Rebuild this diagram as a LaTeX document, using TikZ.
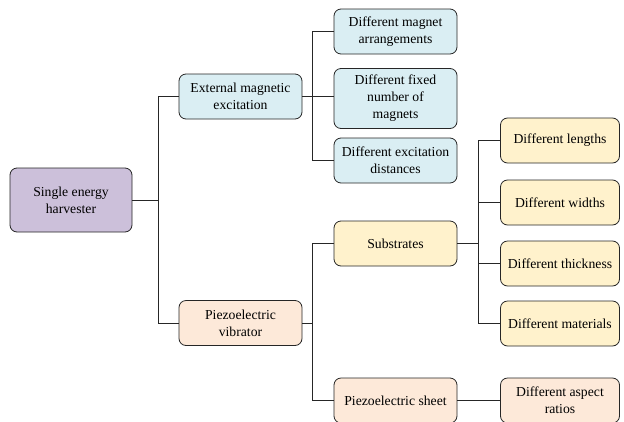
\documentclass[tikz,border=0pt]{standalone}
\usepackage{fontspec}
\setmainfont{Liberation Serif}
\definecolor{rootfill}{HTML}{CCC0DA}
\definecolor{magfill}{HTML}{DAEEF3}
\definecolor{subfill}{HTML}{FFF2CC}
\definecolor{piezofill}{HTML}{FDE9D9}
\tikzset{
  box/.style={draw=black!85, line width=0.8pt, rounded corners=7pt,
    align=center, inner sep=2pt, minimum height=45pt,
    font=\fontsize{13.7}{17}\selectfont},
  rootbox/.style={box, fill=rootfill, minimum width=122pt, minimum height=64pt},
  magbox/.style={box, fill=magfill, minimum width=123pt},
  subbox/.style={box, fill=subfill, minimum width=123pt},
  leafbox/.style={box, fill=subfill, minimum width=119pt},
  piezobox/.style={box, fill=piezofill, minimum width=123pt},
  link/.style={draw=black!85, line width=0.8pt}
}
\begin{document}
\begin{tikzpicture}[x=1pt,y=-1pt]
\useasboundingbox (0,0) rectangle (624,421);
% root
\node[rootbox] (root) at (71,200) {Single energy\\harvester};
% second level
\node[magbox] (ext) at (240.5,96.5) {External magnetic\\excitation};
\node[piezobox] (vib) at (240.5,323) {Piezoelectric\\vibrator};
% magnetic branch
\node[magbox] (arr) at (395.5,31.5) {Different magnet\\arrangements};
\node[magbox, minimum height=60pt] (num) at (395.5,98.5) {Different fixed\\number of\\magnets};
\node[magbox] (dist) at (395.5,160.5) {Different excitation\\distances};
% vibrator branch
\node[subbox] (sub) at (395.5,243.5) {Substrates};
\node[piezobox] (sheet) at (395.5,400.5) {Piezoelectric sheet};
% substrate leaves
\node[leafbox] (len) at (560,140.5) {Different lengths};
\node[leafbox] (wid) at (560,202.5) {Different widths};
\node[leafbox] (thk) at (560,263.5) {Different thickness};
\node[leafbox] (mat) at (560,323.5) {Different materials};
% sheet leaf
\node[piezobox, minimum width=119pt] (asp) at (560,400.5) {Different aspect\\ratios};
% bus lines
\coordinate (j1) at (158,0);
\coordinate (j2) at (312,0);
\coordinate (j3) at (478,0);
\draw[link] (root.east) -- (root.east -| j1) |- (ext.west);
\draw[link] (root.east -| j1) |- (vib.west);
\draw[link] (ext.east) -- (ext.east -| j2) |- (arr.west);
\draw[link] (ext.east -| j2) |- (dist.west);
\draw[link] (ext.east -| j2) -- (ext.east -| num.west);
\draw[link] (vib.east) -- (vib.east -| j2) |- (sub.west);
\draw[link] (vib.east -| j2) |- (sheet.west);
\draw[link] (sub.east) -- (sub.east -| j3) |- (len.west);
\draw[link] (sub.east -| j3) |- (mat.west);
\foreach \n in {wid,thk} \draw[link] (\n.west -| j3) -- (\n.west);
\draw[link] (sheet.east) -- (asp.west);
\end{tikzpicture}
\end{document}
